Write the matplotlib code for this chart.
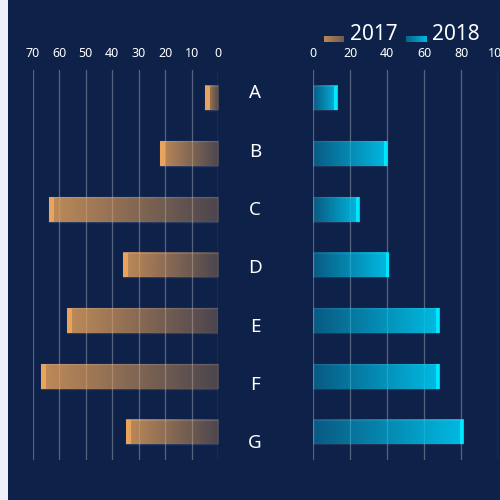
import numpy as np
import matplotlib
matplotlib.use("Agg")
import matplotlib.pyplot as plt
from matplotlib.colors import to_rgb

plt.rcParams['font.family'] = ['Noto Sans', 'DejaVu Sans']

categories = ['A', 'B', 'C', 'D', 'E', 'F', 'G']
values_2017 = [5, 22, 64, 36, 57, 67, 35]
values_2018 = [13, 40, 25, 41, 68, 68, 81]
series_names = ['2017', '2018']
left_ticks = [70, 60, 50, 40, 30, 20, 10, 0]
right_ticks = [0, 20, 40, 60, 80, 100]

BG = '#0e2149'
ORANGE = '#e8a35c'
CYAN = '#00c4ec'
CAP_CYAN = '#00e8ff'
BAR_H = 0.44

fig = plt.figure(figsize=(5, 5), dpi=100)
fig.patch.set_facecolor('#eef0f7')
# navy panel (leaves a light strip at the left edge)
bg_ax = fig.add_axes([0.016, 0, 0.984, 1])
bg_ax.set_facecolor(BG)
bg_ax.set_xticks([]); bg_ax.set_yticks([])
for s in bg_ax.spines.values():
    s.set_visible(False)
bg_ax.set_zorder(-10)


def gradient(color, a_tip, a_base, n=256, tip_first=True):
    r, g, b = to_rgb(color)
    alphas = np.linspace(a_tip, a_base, n) if tip_first else np.linspace(a_base, a_tip, n)
    img = np.zeros((1, n, 4))
    img[0, :, 0] = r; img[0, :, 1] = g; img[0, :, 2] = b
    img[0, :, 3] = alphas
    return img


def style_axis(ax, xlim, ticks):
    ax.set_facecolor('none')
    ax.set_xlim(*xlim)
    ax.set_ylim(len(categories) - 0.5, -0.5)
    ax.set_xticks(ticks)
    ax.set_xticklabels([str(t) for t in ticks])
    ax.xaxis.tick_top()
    ax.tick_params(axis='x', length=0, pad=7, labelsize=9, labelcolor='white')
    ax.set_yticks([])
    for s in ax.spines.values():
        s.set_visible(False)
    ax.grid(axis='x', color='white', alpha=0.3, lw=0.9)
    ax.set_axisbelow(True)


# left panel (2017)
axl = fig.add_axes([0.066, 0.08, 0.37, 0.78])
style_axis(axl, (70, 0), left_ticks)
for i, v in enumerate(values_2017):
    img = gradient(ORANGE, 0.82, 0.28)
    axl.imshow(img, extent=(v, 0, i + BAR_H / 2, i - BAR_H / 2), aspect='auto',
               interpolation='bilinear', zorder=2)
    axl.barh(i, v, height=BAR_H, color='none', edgecolor=(1, 1, 1, 0.12), lw=1, zorder=3)
    axl.barh(i, 1.9, left=v - 1.9, height=BAR_H, color=ORANGE, lw=0, zorder=4)
axl.set_xlim(70, 0)
axl.set_ylim(len(categories) - 0.5, -0.5)

# right panel (2018)
axr = fig.add_axes([0.626, 0.08, 0.3706, 0.78])
style_axis(axr, (0, 100), right_ticks)
for i, v in enumerate(values_2018):
    img = gradient(CYAN, 0.95, 0.35, tip_first=False)
    axr.imshow(img, extent=(0, v, i + BAR_H / 2, i - BAR_H / 2), aspect='auto',
               interpolation='bilinear', zorder=2)
    axr.barh(i, v, height=BAR_H, color='none', edgecolor=(1, 1, 1, 0.08), lw=1, zorder=3)
    axr.barh(i, 1.6, left=v - 1.6, height=BAR_H, color=CAP_CYAN, lw=0, zorder=4)
axr.set_xlim(0, 100)
axr.set_ylim(len(categories) - 0.5, -0.5)

# middle category labels
axm = fig.add_axes([0.45, 0.055, 0.12, 0.8166])
axm.set_xlim(0, 1)
axm.set_ylim(len(categories) - 0.5, -0.5)
axm.axis('off')
for i, c in enumerate(categories):
    axm.text(0.5, i, c, ha='center', va='center', color='white', fontsize=13.5)

# legend
legend_specs = [
    (0.648, series_names[0], gradient(ORANGE, 0.8, 0.45), 0.700),
    (0.812, series_names[1], gradient(CYAN, 0.95, 0.4, tip_first=False), 0.864),
]
for x0, name, img, tx in legend_specs:
    pa = fig.add_axes([x0, 0.916, 0.04, 0.012])
    pa.imshow(img, aspect='auto', extent=(0, 1, 0, 1), interpolation='bilinear')
    pa.set_facecolor(BG)
    pa.axis('off')
    fig.text(tx, 0.931, name, color='white', fontsize=15, ha='left', va='center')

fig.savefig('out.png', dpi=100, facecolor=fig.get_facecolor())
